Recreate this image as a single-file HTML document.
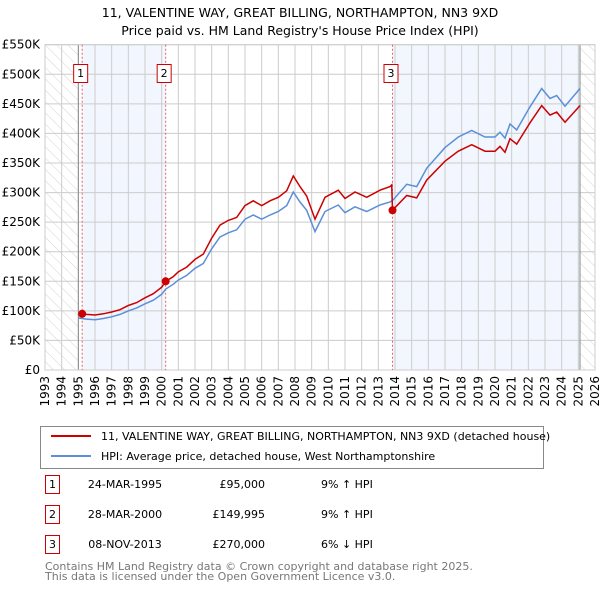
<!DOCTYPE html>
<html><head><meta charset="utf-8"><style>
body{margin:0;background:#fff;font-family:"Liberation Sans","DejaVu Sans",sans-serif;}
svg text{font-family:"DejaVu Sans","Liberation Sans",sans-serif;}
</style></head><body>
<svg id="chart" width="600" height="590" xmlns="http://www.w3.org/2000/svg">
<defs><pattern id="hatch" width="8" height="8" patternUnits="userSpaceOnUse" patternTransform="rotate(-45)"><line x1="0" y1="0" x2="0" y2="8" stroke="#d4d4d4" stroke-width="1"/></pattern></defs>
<text x="300" y="17" text-anchor="middle" font-size="12.5">11, VALENTINE WAY, GREAT BILLING, NORTHAMPTON, NN3 9XD</text>
<text x="300" y="35" text-anchor="middle" font-size="12.5">Price paid vs. HM Land Registry's House Price Index (HPI)</text>
<g id="plot"></g>
<g>
<rect x="40.5" y="426.5" width="503" height="42" fill="#fff" stroke="#888"/>
<line x1="51" y1="436" x2="91" y2="436" stroke="#cc0000" stroke-width="2"/>
<text x="101" y="440" font-size="11">11, VALENTINE WAY, GREAT BILLING, NORTHAMPTON, NN3 9XD (detached house)</text>
<line x1="51" y1="456" x2="91" y2="456" stroke="#5b8fd6" stroke-width="2"/>
<text x="101" y="460" font-size="11">HPI: Average price, detached house, West Northamptonshire</text>
</g>
<g font-size="11">
<rect x="45.5" y="475.5" width="14" height="18" fill="none" stroke="#cc0000"/><text x="52.5" y="488" text-anchor="middle">1</text>
<text x="125" y="488" text-anchor="middle">24-MAR-1995</text><text x="265" y="488" text-anchor="end">£95,000</text><text x="321" y="488">9% ↑ HPI</text>
<rect x="45.5" y="505.5" width="14" height="18" fill="none" stroke="#cc0000"/><text x="52.5" y="518" text-anchor="middle">2</text>
<text x="125" y="518" text-anchor="middle">28-MAR-2000</text><text x="265" y="518" text-anchor="end">£149,995</text><text x="321" y="518">9% ↑ HPI</text>
<rect x="45.5" y="535.5" width="14" height="18" fill="none" stroke="#cc0000"/><text x="52.5" y="548" text-anchor="middle">3</text>
<text x="125" y="548" text-anchor="middle">08-NOV-2013</text><text x="265" y="548" text-anchor="end">£270,000</text><text x="321" y="548">6% ↓ HPI</text>
</g>
<text x="45" y="570" font-size="11" fill="#777">Contains HM Land Registry data © Crown copyright and database right 2025.</text>
<text x="45" y="580" font-size="11" fill="#777">This data is licensed under the Open Government Licence v3.0.</text>
</svg>
<script>
const hpiYears=[1995.0,1995.5,1996,1996.5,1997,1997.5,1998,1998.5,1999,1999.5,2000,2000.25,2000.7,2001,2001.5,2002,2002.5,2003,2003.5,2004,2004.5,2005,2005.5,2006,2006.5,2007,2007.5,2007.9,2008.3,2008.7,2009.2,2009.8,2010.6,2011.0,2011.6,2012.3,2013.1,2013.7,2013.9,2014.7,2015.3,2015.9,2017.0,2017.8,2018.6,2019.4,2020.0,2020.3,2020.6,2020.9,2021.3,2022.1,2022.8,2023.3,2023.7,2024.2,2025.1];
const hpiValues=[88,86,85,87,90,94,100,105,112,118,128,137,145,152,160,172,180,205,225,232,237,255,262,255,262,268,278,301,284,270,234,268,279,266,276,268,279,284,288,314,310,341,376,394,405,394,394,402,392,416,406,445,476,459,464,446,476];
const redYears=[1995.23,1995.5,1996,1996.5,1997,1997.5,1998,1998.5,1999,1999.5,2000,2000.24,2000.7,2001,2001.5,2002,2002.5,2003,2003.5,2004,2004.5,2005,2005.5,2006,2006.5,2007,2007.5,2007.9,2008.3,2008.7,2009.2,2009.8,2010.6,2011.0,2011.6,2012.3,2013.1,2013.7,2013.8,2013.85,2014.7,2015.3,2015.9,2017.0,2017.8,2018.6,2019.4,2020.0,2020.3,2020.6,2020.9,2021.3,2022.1,2022.8,2023.3,2023.7,2024.2,2025.1];
const redValues=[95,94,93,95,98,102,109,114,122,129,140,150,158,166,174,187,196,223,245,253,258,278,286,278,286,292,303,328,310,294,255,292,304,290,301,292,304,310,313,270,295,291,321,353,370,381,370,370,378,368,391,382,418,447,431,436,419,447];
const saleYears=[1995.23,2000.24,2013.85];
const salePrices=[95,150,270];
const saleLabels=["1","2","3"];
const yTicks=[0,50,100,150,200,250,300,350,400,450,500,550];
const yTickLabels=["£0","£50K","£100K","£150K","£200K","£250K","£300K","£350K","£400K","£450K","£500K","£550K"];
const xTicks=[];for(let y=1993;y<=2026;y++)xTicks.push(y);

const L=45,R=595,T=44.7,B=370,X0=1993,X1=2026,YMAX=550;
const xs=v=>L+(v-X0)/(X1-X0)*(R-L);
const ys=v=>B-v/YMAX*(B-T);
const NS="http://www.w3.org/2000/svg";
const g=document.getElementById('plot');
function mk(tag,attrs,parent){const e=document.createElementNS(NS,tag);for(const k in attrs)e.setAttribute(k,attrs[k]);(parent||g).appendChild(e);return e;}
let e;
e=mk('rect',{x:L,y:T,width:xs(1995.0)-L,height:B-T,fill:'url(#hatch)'});


e=mk('rect',{x:xs(2025.1),y:T,width:R-xs(2025.1),height:B-T,fill:'url(#hatch)'});


e=mk('rect',{x:xs(saleYears[0]),y:T,width:xs(saleYears[1])-xs(saleYears[0]),height:B-T,fill:'#f2f6fe'});


e=mk('rect',{x:xs(saleYears[2]),y:T,width:xs(2025.1)-xs(saleYears[2]),height:B-T,fill:'#f2f6fe'});


xTicks.forEach(t=>{const l=mk('line',{x1:xs(t),x2:xs(t),y1:T,y2:B,stroke:'#ccc','stroke-width':1});


const tx=mk('text',{x:0,y:0,'font-size':12,'text-anchor':'end',transform:`translate(${xs(t)+4},${B+6}) rotate(-90)`});tx.textContent=t;

});
yTicks.forEach((t,i)=>{const l=mk('line',{x1:L,x2:R,y1:ys(t),y2:ys(t),stroke:'#ccc','stroke-width':1});


const tx=mk('text',{x:L-5,y:ys(t)+4,'font-size':12,'text-anchor':'end'});tx.textContent=yTickLabels[i];

});
e=mk('line',{x1:xs(1995.0),x2:xs(1995.0),y1:T,y2:B,stroke:'#888'});


e=mk('line',{x1:xs(2025.1),x2:xs(2025.1),y1:T,y2:B,stroke:'#888'});


e=mk('rect',{x:L,y:T,width:R-L,height:B-T,fill:'none',stroke:'#ccc'});


saleYears.forEach((s,i)=>{const l=mk('line',{x1:xs(s),x2:xs(s),y1:T,y2:B,stroke:'#f06060','stroke-dasharray':'2,2'});


const r=mk('rect',{x:xs(s)-8.5,y:64.5,width:14,height:18,fill:'#fff',stroke:'#cc0000'});


const t=mk('text',{x:xs(s)-1.5,y:77,'font-size':11,'text-anchor':'middle'});t.textContent=saleLabels[i];

});
const pts=(xa,va)=>xa.map((x,i)=>xs(x).toFixed(1)+','+ys(va[i]).toFixed(1)).join(' ');
e=mk('polyline',{points:pts(hpiYears,hpiValues),fill:'none',stroke:'#5b8fd6','stroke-width':1.5});


e=mk('polyline',{points:pts(redYears,redValues),fill:'none',stroke:'#cc0000','stroke-width':1.5});


saleYears.forEach((s,i)=>{const c=mk('circle',{cx:xs(s),cy:ys(salePrices[i]),r:4,fill:'#cc0000'});

});
</script>
</body></html>
